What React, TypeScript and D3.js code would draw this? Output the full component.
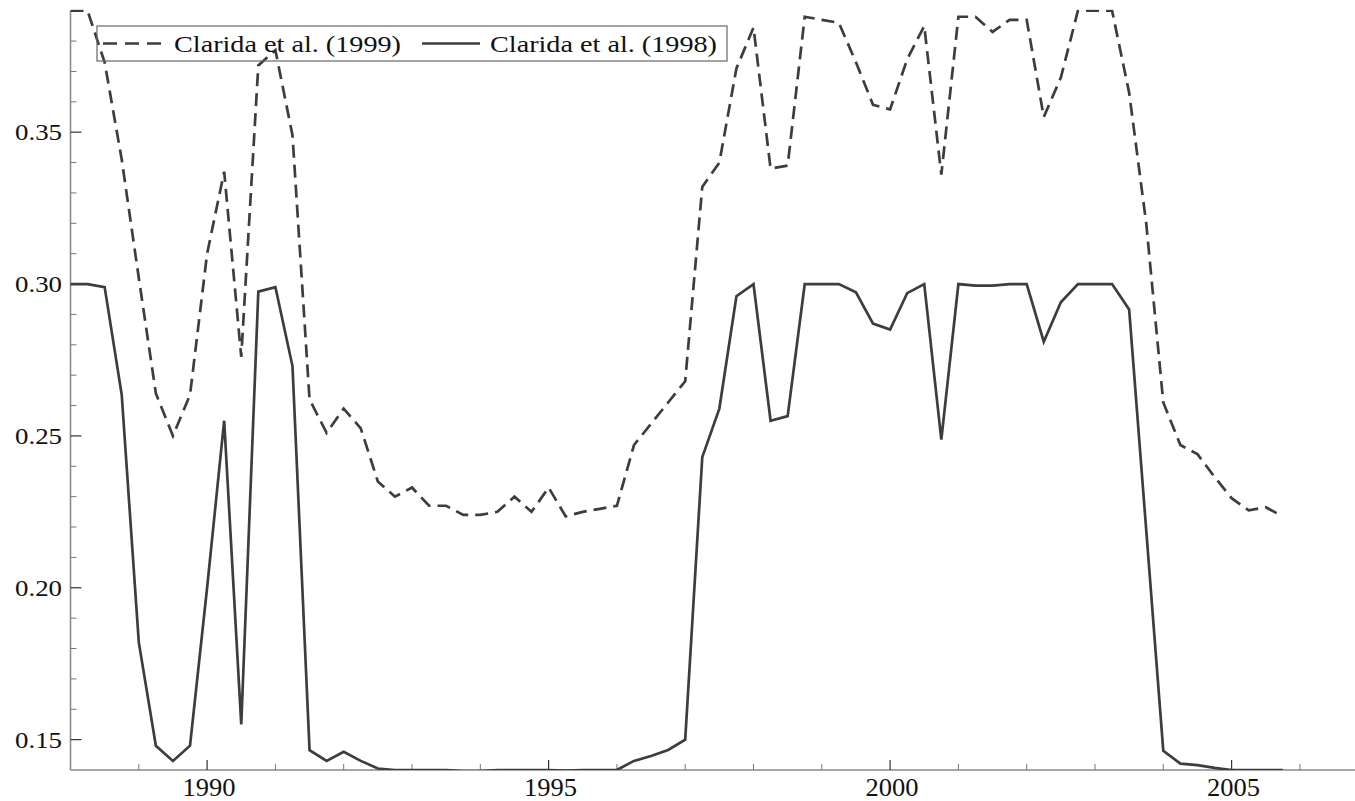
import React from "react";
import * as d3 from "d3";

const quarters: number[] = [];
for (let y = 1988; y <= 2005; y++) for (let q = 0; q < 4; q++) quarters.push(y + q * 0.25);

const clarida1999: number[] = [
  0.390, 0.390, 0.373, 0.341,
  0.302, 0.264, 0.250, 0.2635,
  0.310, 0.337, 0.276, 0.372,
  0.377, 0.349, 0.262, 0.251,
  0.259, 0.2525, 0.235, 0.230,
  0.233, 0.227, 0.227, 0.224,
  0.224, 0.225, 0.230, 0.225,
  0.233, 0.2235, 0.225, 0.226,
  0.227, 0.247, 0.254, 0.261,
  0.268, 0.332, 0.340, 0.371,
  0.3845, 0.338, 0.339, 0.388,
  0.387, 0.386, 0.373, 0.359,
  0.3575, 0.374, 0.385, 0.336,
  0.388, 0.388, 0.383, 0.387,
  0.387, 0.355, 0.368, 0.390,
  0.390, 0.390, 0.363, 0.320,
  0.261, 0.247, 0.244, 0.2365,
  0.2295, 0.2255, 0.2265, 0.2235,
];

const clarida1998: number[] = [
  0.300, 0.300, 0.299, 0.2635,
  0.182, 0.148, 0.143, 0.148,
  0.200, 0.255, 0.155, 0.2975,
  0.299, 0.273, 0.1465, 0.143,
  0.146, 0.143, 0.1405, 0.140,
  0.140, 0.140, 0.140, 0.1396,
  0.1396, 0.140, 0.140, 0.140,
  0.140, 0.1398, 0.140, 0.140,
  0.140, 0.143, 0.1446, 0.1466,
  0.150, 0.243, 0.259, 0.296,
  0.300, 0.255, 0.2565, 0.300,
  0.300, 0.300, 0.2973, 0.287,
  0.285, 0.297, 0.300, 0.2488,
  0.300, 0.2995, 0.2995, 0.300,
  0.300, 0.281, 0.294, 0.300,
  0.300, 0.300, 0.2916, 0.219,
  0.1463, 0.1421, 0.1416, 0.1407,
  0.140, 0.140, 0.140, 0.140,
];

const seriesNames = ["Clarida et al. (1999)", "Clarida et al. (1998)"];
const yMajor = [0.15, 0.2, 0.25, 0.3, 0.35];
const yMajorLabels = ["0.15", "0.20", "0.25", "0.30", "0.35"];
const xMajor = [1990, 1995, 2000, 2005];
const xMajorLabels = ["1990", "1995", "2000", "2005"];

const W = 1355;
const H = 801;
const left = 70.5;
const right = 1355;
const top = 10.7;
const bottom = 770;

export default function App() {
  const x = d3.scaleLinear().domain([1988, 1988 + (right - left) / 68.3]).range([left, right]);
  const y = d3.scaleLinear().domain([0.14, 0.39]).range([bottom, top]);

  const line = d3
    .line<number>()
    .x((_, i) => x(quarters[i]))
    .y((d) => y(d));

  const yMinor = d3.range(15, 40).map((v) => v / 100).filter((v) => !yMajor.some((m) => Math.abs(m - v) < 1e-9));
  const xMinor = d3.range(1989, 2007).filter((v) => !xMajor.includes(v));

  const lineColor = "#3d3d3d";
  const font = "Liberation Serif, Times New Roman, serif";

  return (
    <svg width={W} height={H} style={{ position: "absolute", left: 0, top: 0, background: "#fff" }}>
      <defs>
        <clipPath id="plotClip">
          <rect x={left} y={top - 1} width={right - left} height={bottom - top + 1} />
        </clipPath>
      </defs>

      {/* axes */}
      <line x1={left} x2={left} y1={top} y2={bottom} stroke="#8a8a8a" strokeWidth={1.6} />
      <line x1={left} x2={right} y1={bottom} y2={bottom} stroke="#8a8a8a" strokeWidth={1.6} />

      {yMinor.map((v) => (
        <line key={"ym" + v} x1={left} x2={left + 6} y1={y(v)} y2={y(v)} stroke="#777" strokeWidth={1} />
      ))}
      {yMajor.map((v, i) => (
        <g key={"yM" + v}>
          <line x1={left} x2={left + 11} y1={y(v)} y2={y(v)} stroke="#333" strokeWidth={1.2} />
          <text
            x={62}
            y={y(v) + 8}
            textAnchor="end"
            fontFamily={font}
            fontSize={23}
            textLength={47}
            lengthAdjust="spacingAndGlyphs"
            fill="#111"
          >
            {yMajorLabels[i]}
          </text>
        </g>
      ))}

      {xMinor.map((v) => (
        <line key={"xm" + v} x1={x(v)} x2={x(v)} y1={bottom} y2={bottom - 6} stroke="#777" strokeWidth={1} />
      ))}
      {xMajor.map((v, i) => (
        <g key={"xM" + v}>
          <line x1={x(v)} x2={x(v)} y1={bottom} y2={bottom - 10} stroke="#333" strokeWidth={1.2} />
          <text
            x={x(v) + 2}
            y={796}
            textAnchor="middle"
            fontFamily={font}
            fontSize={25}
            textLength={53}
            lengthAdjust="spacingAndGlyphs"
            fill="#111"
          >
            {xMajorLabels[i]}
          </text>
        </g>
      ))}

      <g clipPath="url(#plotClip)">
        <path d={line(clarida1999) || ""} fill="none" stroke={lineColor} strokeWidth={2.7} strokeDasharray="13,7" />
        <path d={line(clarida1998) || ""} fill="none" stroke={lineColor} strokeWidth={2.7} />
      </g>

      {/* legend */}
      <g>
        <rect x={97} y={26} width={630} height={35} fill="none" stroke="#666" strokeWidth={1.2} />
        <line x1={103} x2={165} y1={43.5} y2={43.5} stroke={lineColor} strokeWidth={2.7} strokeDasharray="14,8" />
        <text
          x={174}
          y={52}
          fontFamily={font}
          fontSize={24}
          textLength={227}
          lengthAdjust="spacingAndGlyphs"
          fill="#111"
        >
          {seriesNames[0]}
        </text>
        <line x1={422} x2={480} y1={43.5} y2={43.5} stroke={lineColor} strokeWidth={2.7} />
        <text
          x={490}
          y={52}
          fontFamily={font}
          fontSize={24}
          textLength={227}
          lengthAdjust="spacingAndGlyphs"
          fill="#111"
        >
          {seriesNames[1]}
        </text>
      </g>
    </svg>
  );
}
